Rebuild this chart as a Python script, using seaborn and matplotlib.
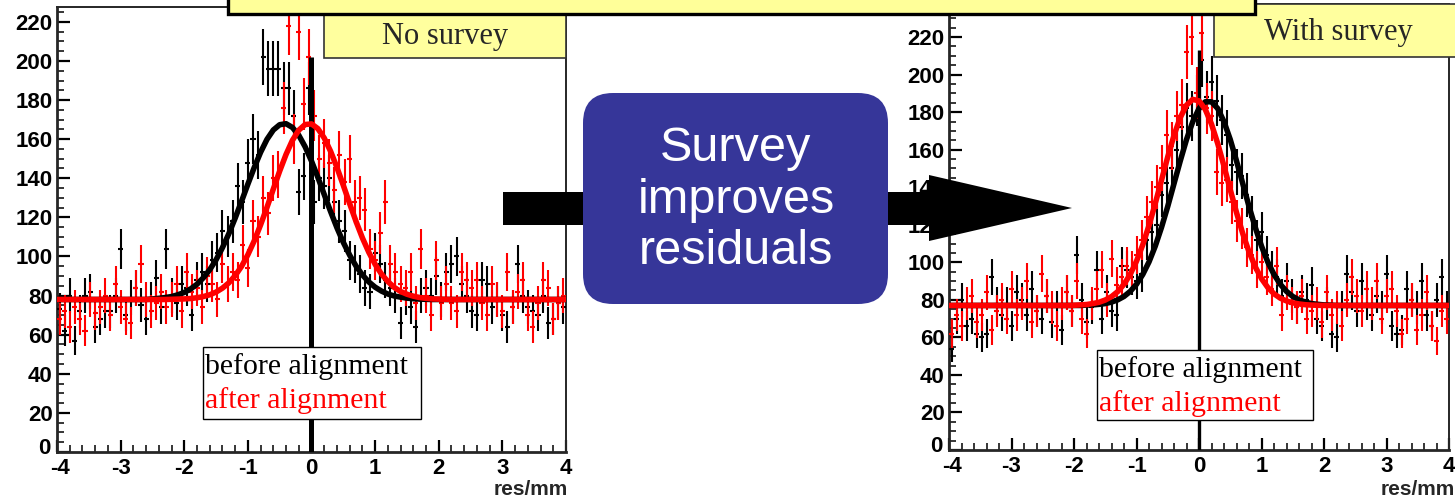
import numpy as np
import matplotlib
matplotlib.use("Agg")
import matplotlib.pyplot as plt
import seaborn as sns
from matplotlib.patches import Rectangle, FancyBboxPatch, Polygon
from matplotlib.ticker import MultipleLocator
from matplotlib.transforms import Affine2D, ScaledTranslation

# ==========================================
# Data (100 bins, 0.08 mm)
# ==========================================
N_BINS = 100
BIN_W = 0.08
bin_centres = -4 + BIN_W / 2 + BIN_W * np.arange(N_BINS)

# "No survey" panel
no_survey_before = [
    73, 62, 80, 57, 72, 80, 82, 64, 68, 72, 72, 80, 104, 70, 79, 84, 75, 68, 78, 89,
    74, 104, 80, 76, 86, 84, 70, 88, 92, 86, 98, 102, 113, 110, 118, 136, 128, 148, 160, 152,
    202, 196, 196, 196, 186, 186, 172, 133, 141, 186, 128, 140, 136, 140, 128, 118, 113, 98, 96, 91,
    84, 82, 102, 96, 88, 84, 80, 66, 79, 74, 64, 80, 84, 80, 90, 78, 92, 96, 100, 86,
    80, 72, 70, 88, 86, 74, 78, 70, 64, 74, 96, 80, 74, 72, 70, 80, 66, 68, 76, 74]
no_survey_after = [
    68, 72, 64, 74, 68, 62, 78, 71, 74, 80, 70, 86, 74, 68, 66, 84, 96, 78, 72, 76,
    82, 74, 78, 86, 72, 92, 82, 84, 74, 90, 86, 78, 96, 86, 92, 88, 106, 94, 118, 110,
    130, 122, 140, 142, 176, 218, 160, 215, 178, 202, 172, 150, 158, 148, 134, 152, 138, 150, 128, 130,
    124, 104, 98, 112, 128, 96, 92, 86, 84, 92, 76, 104, 80, 70, 98, 76, 86, 76, 72, 92,
    88, 84, 88, 76, 70, 86, 78, 72, 92, 74, 82, 88, 70, 64, 76, 88, 84, 68, 76, 80]

# "With survey" panel
with_survey_before = [
    54, 70, 80, 66, 70, 62, 60, 62, 92, 78, 72, 78, 66, 84, 80, 72, 86, 74, 70, 82,
    68, 76, 64, 84, 74, 104, 80, 68, 76, 96, 70, 84, 74, 72, 98, 96, 92, 90, 94, 112,
    116, 120, 136, 142, 150, 160, 172, 182, 178, 186, 208, 188, 196, 186, 176, 168, 152, 148, 146, 136,
    124, 112, 116, 104, 96, 92, 82, 90, 82, 76, 84, 80, 88, 70, 66, 78, 62, 60, 76, 94,
    84, 74, 90, 78, 72, 82, 76, 94, 66, 62, 64, 86, 80, 76, 90, 72, 66, 80, 92, 76]
with_survey_after = [
    62, 72, 66, 78, 82, 68, 72, 84, 64, 74, 80, 70, 86, 72, 78, 90, 68, 74, 94, 82,
    76, 66, 78, 84, 74, 90, 70, 62, 78, 86, 96, 80, 102, 88, 92, 98, 96, 104, 112, 124,
    132, 140, 150, 168, 162, 178, 184, 212, 220, 190, 222, 182, 178, 148, 142, 144, 132, 122, 118, 108,
    104, 96, 100, 92, 86, 98, 72, 84, 78, 76, 82, 70, 74, 78, 68, 84, 72, 76, 66, 80,
    92, 82, 74, 86, 78, 90, 70, 82, 86, 74, 62, 70, 80, 64, 72, 84, 66, 58, 74, 70]

# fitted curves (gaussian + flat background), sampled every 0.1 mm
fit_x = np.round(np.arange(-4.0, 4.05, 0.1), 1)
no_survey_before_fit = [
    78.0, 78.0, 78.0, 78.0, 78.0, 78.0, 78.0, 78.0, 78.0, 78.0, 78.0, 78.0, 78.0, 78.0, 78.0,
    78.3, 78.6, 79.0, 79.5, 80.4, 81.6, 83.4, 85.8, 89.1, 93.2, 98.3, 104.5, 111.6, 119.6, 128.2,
    137.0, 145.5, 153.3, 159.9, 164.7, 167.4, 167.9, 166.0, 162.0, 156.1, 148.8, 140.5, 131.7, 123.0,
    114.7, 107.2, 100.7, 95.1, 90.6, 87.0, 84.3, 82.3, 80.8, 79.8, 79.2, 78.7, 78.4, 78.2, 78.1,
    78.0, 78.0, 78.0, 78.0, 78.0, 78.0, 78.0, 78.0, 78.0, 78.0, 78.0, 78.0, 78.0, 78.0, 78.0,
    78.0, 78.0, 78.0, 78.0, 78.0, 78.0, 78.0]
no_survey_after_fit = [
    78.0, 78.0, 78.0, 78.0, 78.0, 78.0, 78.0, 78.0, 78.0, 78.0, 78.0, 78.0, 78.0, 78.0, 78.0,
    78.0, 78.0, 78.0, 78.1, 78.2, 78.3, 78.5, 78.9, 79.5, 80.4, 81.8, 83.8, 86.5, 90.2, 94.9,
    100.9, 108.0, 116.2, 125.1, 134.5, 143.7, 152.2, 159.4, 164.6, 167.5, 167.8, 165.4, 160.6, 153.8,
    145.5, 136.4, 127.0, 117.9, 109.5, 102.2, 96.0, 91.0, 87.2, 84.2, 82.1, 80.7, 79.7, 79.0, 78.6,
    78.3, 78.2, 78.1, 78.0, 78.0, 78.0, 78.0, 78.0, 78.0, 78.0, 78.0, 78.0, 78.0, 78.0, 78.0,
    78.0, 78.0, 78.0, 78.0, 78.0, 78.0, 78.0]
with_survey_before_fit = [
    77.0, 77.0, 77.0, 77.0, 77.0, 77.0, 77.0, 77.0, 77.0, 77.0, 77.0, 77.0, 77.0, 77.0, 77.0,
    77.0, 77.0, 77.0, 77.0, 77.0, 77.0, 77.0, 77.2, 77.3, 77.6, 78.0, 78.8, 80.0, 81.8, 84.5,
    88.3, 93.5, 100.2, 108.6, 118.6, 129.8, 141.9, 154.0, 165.4, 174.9, 181.9, 185.5, 185.5, 181.9,
    174.9, 165.4, 154.0, 141.9, 129.8, 118.6, 108.6, 100.2, 93.5, 88.3, 84.5, 81.8, 80.0, 78.8, 78.0,
    77.6, 77.3, 77.2, 77.0, 77.0, 77.0, 77.0, 77.0, 77.0, 77.0, 77.0, 77.0, 77.0, 77.0, 77.0,
    77.0, 77.0, 77.0, 77.0, 77.0, 77.0, 77.0]
with_survey_after_fit = [
    77.0, 77.0, 77.0, 77.0, 77.0, 77.0, 77.0, 77.0, 77.0, 77.0, 77.0, 77.0, 77.0, 77.0, 77.0,
    77.0, 77.0, 77.0, 77.0, 77.0, 77.1, 77.3, 77.5, 78.0, 78.7, 79.9, 81.7, 84.4, 88.3, 93.6,
    100.6, 109.3, 119.6, 131.3, 143.7, 156.2, 167.6, 177.1, 183.7, 186.8, 186.0, 181.5, 173.6, 163.2,
    151.2, 138.7, 126.5, 115.3, 105.6, 97.6, 91.3, 86.6, 83.2, 80.9, 79.4, 78.4, 77.8, 77.4, 77.2,
    77.1, 77.0, 77.0, 77.0, 77.0, 77.0, 77.0, 77.0, 77.0, 77.0, 77.0, 77.0, 77.0, 77.0, 77.0,
    77.0, 77.0, 77.0, 77.0, 77.0, 77.0, 77.0]

x_ticks = [-4, -3, -2, -1, 0, 1, 2, 3, 4]
y_ticks = [0, 20, 40, 60, 80, 100, 120, 140, 160, 180, 200, 220]
panel_titles = ["No survey", "With survey"]
legend_labels = ["before alignment", "after alignment"]
x_label = "res/mm"
centre_text = "Survey\nimproves\nresiduals"

# ==========================================
# Figure setup
# ==========================================
W, H = 1455, 498
sns.set_theme(style="ticks")
plt.rcParams["font.family"] = ["Liberation Sans", "DejaVu Sans"]
plt.rcParams["axes.unicode_minus"] = False

fig = plt.figure(figsize=(W / 100, H / 100), dpi=100)
fig.patch.set_facecolor("white")

# pixel coordinates measured from the top-left corner of the picture
px = Affine2D().scale(1, -1).translate(0, H).scale(1 / W, 1 / H) + fig.transFigure


def axes_px(x0, y0, x1, y1):
    return fig.add_axes([x0 / W, 1 - y1 / H, (x1 - x0) / W, (y1 - y0) / H])


def draw_panel(ax, before, after, fit_before, fit_after, ymax, zero_top, zero_lw):
    ax.vlines(0, 0, zero_top, color="black", lw=zero_lw, zorder=3.5)
    for counts, fit, col in [(before, fit_before, "black"), (after, fit_after, "red")]:
        counts = np.asarray(counts, dtype=float)
        ax.errorbar(bin_centres, counts, yerr=np.sqrt(counts), xerr=BIN_W / 2,
                    fmt="none", ecolor=col, elinewidth=1.5, capsize=0, zorder=3)
        sns.lineplot(x=fit_x, y=fit, ax=ax, color=col, lw=4.0, sort=False, zorder=4)
    ax.set_xlim(-4, 4)
    ax.set_ylim(0, ymax)
    ax.set_xlabel("")
    ax.set_ylabel("")
    ax.set_xticks(x_ticks)
    ax.set_yticks(y_ticks)
    ax.xaxis.set_minor_locator(MultipleLocator(0.2))
    ax.yaxis.set_minor_locator(MultipleLocator(5))
    ax.tick_params(which="major", direction="in", length=9, width=1.6,
                   labelsize=16, colors="black")
    ax.tick_params(axis="x", which="major", pad=4)
    ax.tick_params(axis="y", which="major", pad=3)
    ax.tick_params(which="minor", direction="in", length=5, width=1.3)
    ax.tick_params(top=False, right=False, which="both")
    ax.set_xticklabels([str(v) for v in x_ticks], fontweight="bold")
    ax.set_yticklabels([str(v) for v in y_ticks], fontweight="bold")
    # lift the "0" on the y axis a little, as ROOT does, so it clears "-4"
    y0_lab = ax.get_yticklabels()[0]
    y0_lab.set_transform(y0_lab.get_transform()
                         + ScaledTranslation(-2 / 100, 6 / 100, fig.dpi_scale_trans))
    x0_lab = ax.get_xticklabels()[0]
    x0_lab.set_transform(x0_lab.get_transform()
                         + ScaledTranslation(3 / 100, 0, fig.dpi_scale_trans))
    for side in ["left", "bottom"]:
        ax.spines[side].set_linewidth(2.0)
    for side in ["top", "right"]:
        ax.spines[side].set_linewidth(1.4)
    ax.set_facecolor("white")


ax_l = axes_px(57, 7, 566, 452)
draw_panel(ax_l, no_survey_before, no_survey_after,
           no_survey_before_fit, no_survey_after_fit, 227.6, 202, 3.6)
ax_r = axes_px(949, 4, 1449, 450)
draw_panel(ax_r, with_survey_before, with_survey_after,
           with_survey_before_fit, with_survey_after_fit, 237.6, 213, 2.4)

# axis titles
fig.text(568, 489, x_label, transform=px, ha="right", va="center",
         fontsize=15, fontweight="bold")
fig.text(1455, 489, x_label, transform=px, ha="right", va="center",
         fontsize=15, fontweight="bold")

serif = ["Liberation Serif", "DejaVu Serif"]

# panel labels (yellow boxes)
for (x0, y0, x1, y1), cx, title in zip([(324, 10, 566, 58), (1214, 4, 1470, 57)],
                                       [445, 1338], panel_titles):
    fig.patches.append(Rectangle((x0, y0), x1 - x0, y1 - y0, transform=px,
                                 facecolor="#ffff9e", edgecolor="#333333", lw=1.2, zorder=5))
    fig.text(cx, (y0 + y1) / 2 + 2, title, transform=px, ha="center", va="center",
             fontsize=22, family=serif, zorder=6)

# legends
for (x0, y0, x1, y1) in [(203, 347, 421, 419), (1097, 350, 1313, 420)]:
    fig.patches.append(Rectangle((x0, y0), x1 - x0, y1 - y0, transform=px,
                                 facecolor="white", edgecolor="black", lw=1.0, zorder=5))
    fig.text(x0 + 2, y0 + 20, legend_labels[0], transform=px, ha="left", va="center",
             fontsize=21.5, family=serif, color="black", zorder=6)
    fig.text(x0 + 2, y0 + 54, legend_labels[1], transform=px, ha="left", va="center",
             fontsize=21.5, family=serif, color="red", zorder=6)

# big arrow behind the blue box
arrow_pts = [(503, 192), (929, 192), (929, 175), (1072, 208),
             (929, 241), (929, 225), (503, 225)]
fig.patches.append(Polygon(arrow_pts, closed=True, transform=px,
                           facecolor="black", edgecolor="none", zorder=6))

# blue rounded box with the message
fig.patches.append(FancyBboxPatch((583, 93), 305, 211, transform=px,
                                  boxstyle="round,pad=0,rounding_size=30",
                                  facecolor="#363699", edgecolor="none", zorder=7))
fig.text(736, 200, centre_text, transform=px, ha="center", va="center",
         fontsize=35, color="white", linespacing=1.18, zorder=8)

# top banner (text cut off above the picture)
fig.patches.append(Rectangle((228, -20), 1027, 34, transform=px,
                             facecolor="#ffff99", edgecolor="black", lw=2.4, zorder=9))

fig.savefig("out.png", dpi=100, facecolor="white")
